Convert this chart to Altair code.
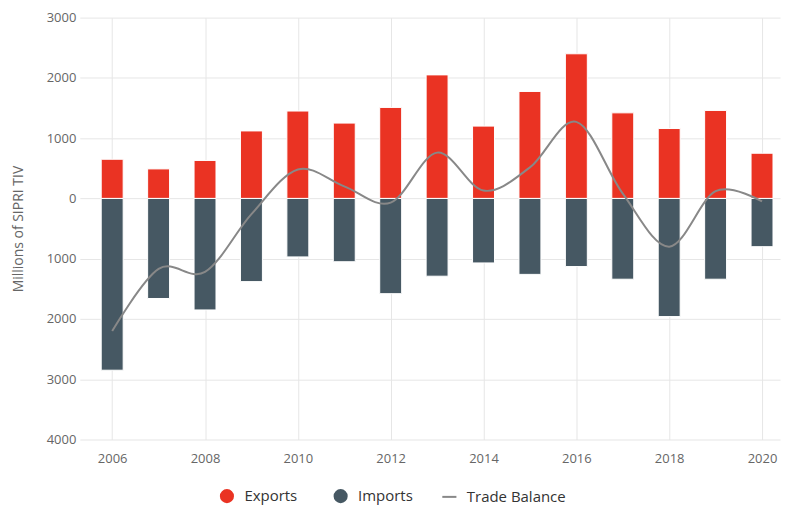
import altair as alt
import pandas as pd

years = list(range(2006, 2021))
exports = [650, 490, 630, 1120, 1450, 1250, 1510, 2050, 1200, 1775, 2400, 1420, 1160, 1460, 750]
imports = [2850, 1660, 1850, 1380, 970, 1050, 1580, 1290, 1070, 1260, 1130, 1340, 1960, 1340, 800]
balance = [-2200, -1170, -1220, -260, 480, 200, -70, 760, 130, 515, 1270, 80, -800, 120, -50]

FONT = "Open Sans"
RED = "#EA3323"
SLATE = "#465863"
GREY = "#888888"

bars = pd.DataFrame(
    [{"year": y, "series": "Exports", "value": e} for y, e in zip(years, exports)]
    + [{"year": y, "series": "Imports", "value": -i} for y, i in zip(years, imports)]
)
line = pd.DataFrame({"year": years, "value": balance, "kind": ["Trade Balance"] * len(years)})

x = alt.X(
    "year:Q",
    scale=alt.Scale(domain=[2005.41, 2020.28], nice=False, zero=False),
    axis=alt.Axis(
        values=list(range(2006, 2021, 2)), format="d", title=None, domain=False, ticks=False,
        labelPadding=13, gridColor="#e6e6e6", labelColor="#666666", labelFontSize=13, labelFont=FONT,
    ),
)
y_scale = alt.Scale(domain=[-4000, 3000], nice=False)
y_axis = alt.Axis(
    values=list(range(-4000, 3001, 1000)), labelExpr="format(abs(datum.value), 'd')",
    title="Millions of SIPRI TIV", domain=False, ticks=False, labelPadding=4,
    gridColor="#e6e6e6", labelColor="#666666", labelFontSize=13, labelFont=FONT,
    titleColor="#666666", titleFontSize=14, titleFont=FONT, titleFontWeight="normal", titlePadding=21,
)

bar_layer = alt.Chart(bars).mark_bar(size=22, stroke="white", strokeWidth=1).encode(
    x=x,
    y=alt.Y("value:Q", scale=y_scale, axis=y_axis),
    color=alt.Color(
        "series:N",
        scale=alt.Scale(domain=["Exports", "Imports"], range=[RED, SLATE]),
        legend=alt.Legend(title=None, orient="none", legendX=140, legendY=472, direction="horizontal",
                          symbolType="circle", symbolSize=200, symbolStrokeWidth=0, labelOffset=10,
                          labelFontSize=15, labelFont=FONT, labelColor="#333333", columnPadding=35),
    ),
)

line_layer = alt.Chart(line).mark_line(interpolate="cardinal", strokeWidth=2).encode(
    x=x,
    y=alt.Y("value:Q", scale=y_scale),
    stroke=alt.Stroke(
        "kind:N",
        scale=alt.Scale(domain=["Trade Balance"], range=[GREY]),
        legend=alt.Legend(title=None, orient="none", legendX=362, legendY=472, direction="horizontal",
                          symbolType="stroke", symbolSize=200, symbolStrokeWidth=2, labelOffset=9,
                          labelFontSize=15, labelFont=FONT, labelColor="#333333"),
    ),
)

chart = alt.layer(bar_layer, line_layer).properties(
    width=702, height=423,
    autosize=alt.AutoSizeParams(type="none"),
    padding={"left": 72, "top": 9, "right": 2, "bottom": 68},
).configure_view(stroke=None).configure_legend(padding=0)

chart.save("out.html", embed_options={"renderer": "svg", "actions": False})
